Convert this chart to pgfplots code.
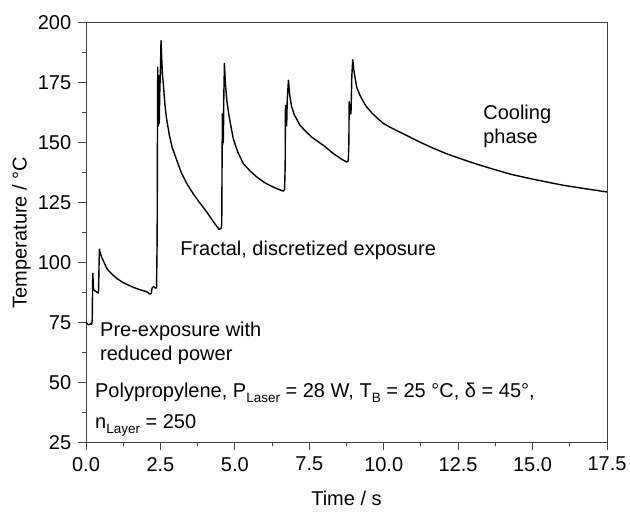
\documentclass[border=0pt]{standalone}
\usepackage{fontspec}
\setmainfont{Liberation Sans}
\usepackage{pgfplots}
\pgfplotsset{compat=1.18}
\pgfplotstableread{
t T
0.00 75.2
0.05 74.3
0.10 74.0
0.15 74.4
0.19 74.2
0.21 76
0.22 90
0.23 95.5
0.25 89
0.28 88.3
0.33 88.0
0.38 87.5
0.42 87.3
0.44 100
0.45 105.5
0.48 104
0.53 102
0.58 100.8
0.70 97.5
0.80 96
0.92 94.6
1.05 93.2
1.25 91.6
1.40 90.7
1.59 89.6
1.80 88.7
2.04 87.8
2.15 86.8
2.19 87.0
2.22 89.3
2.27 90.0
2.33 89.3
2.37 89.5
2.39 110
2.40 150
2.41 181.5
2.42 160
2.43 157
2.44 178
2.46 158
2.48 172
2.50 180
2.52 192.5
2.54 186
2.57 178
2.60 174
2.65 166
2.70 160.5
2.80 153
2.90 147.8
3.05 142.6
3.20 137.5
3.40 132.6
3.60 128.7
3.80 125.2
4.00 122
4.17 119
4.30 116.6
4.40 115
4.47 113.8
4.54 114.2
4.56 116
4.57 140
4.58 162
4.59 149
4.60 160
4.61 150
4.62 157
4.63 170
4.65 183
4.68 175
4.73 167.6
4.80 161.5
4.88 156
4.95 151.5
5.10 146
5.28 141.3
5.50 138.3
5.73 135.7
6.00 133.3
6.20 132
6.41 130.8
6.55 130.1
6.63 129.8
6.67 130.4
6.69 140
6.70 165.5
6.71 156.5
6.72 163
6.74 157
6.76 168
6.80 176
6.84 170
6.91 164.8
7.00 161.5
7.19 157.2
7.40 154.4
7.60 152.1
7.75 150.8
8.00 148.6
8.31 145.4
8.50 143.8
8.65 142.6
8.76 141.9
8.81 142.4
8.83 150
8.84 167
8.86 161.5
8.88 166
8.90 162
8.93 178
8.96 184.6
9.00 180
9.09 173.2
9.20 169.8
9.32 167
9.43 164.8
9.60 162.4
9.80 160
9.99 158
10.20 156.5
10.44 155
10.80 152.8
11.20 150.3
11.56 148.2
12.10 145.4
12.67 142.9
13.20 140.7
13.79 138.5
14.30 136.7
14.91 135
15.50 133.5
16.03 132.2
16.80 130.7
17.50 129.4
}\datatable
\newcommand{\sub}[1]{\raisebox{-5bp}{\fontsize{13.5bp}{14bp}\selectfont #1}}
\begin{document}
\fontsize{20bp}{24bp}\selectfont
\begin{tikzpicture}
\useasboundingbox (-86bp,-69.7bp) rectangle (544bp,442.3bp);
\begin{axis}[
  at={(0,0)}, anchor=south west,
  scale only axis,
  width=521bp, height=419.6bp,
  xmin=0, xmax=17.5, ymin=25, ymax=200,
  xtick={0,2.5,...,17.5},
  ytick={25,50,...,200},
  minor tick num=1,
  tick pos=left,
  tick align=outside,
  major tick length=8bp,
  minor tick length=4bp,
  axis line style={black!75, line width=0.9bp},
  every tick/.style={black!75, line width=0.9bp},
  /pgf/number format/assume math mode=true,
  xticklabel style={/pgf/number format/.cd, fixed, fixed zerofill, precision=1},
  yticklabel style={/pgf/number format/.cd, fixed, precision=0},
  xlabel={Time / s},
  ylabel={Temperature / °C},
  xlabel style={at={(axis description cs:0.5,-0.1511)}, anchor=base},
  ylabel style={at={(axis description cs:-0.1138,0.5)}, anchor=base, rotate=0},
  every node/.append style={font=\fontsize{20bp}{24bp}\selectfont},
  clip=false,
]
\addplot[black, line width=1.4bp, line join=round] table[x=t, y=T] {\datatable};
\node[anchor=base west, inner sep=0pt] at (axis cs:13.34,159.6) {Cooling};
\node[anchor=base west, inner sep=0pt] at (axis cs:13.34,149.6) {phase};
\node[anchor=base west, inner sep=0pt] at (axis cs:3.16,103.1) {Fractal, discretized exposure};
\node[anchor=base west, inner sep=0pt] at (axis cs:0.47,69.3) {Pre-exposure with};
\node[anchor=base west, inner sep=0pt] at (axis cs:0.47,59.3) {reduced power};
\node[anchor=base west, inner sep=0pt] at (axis cs:0.30,43.75) {Polypropylene, P\sub{Laser} = 28 W, T\sub{B} = 25 °C, δ = 45°,};
\node[anchor=base west, inner sep=0pt] at (axis cs:0.30,30.8) {n\sub{Layer} = 250};
\end{axis}
\end{tikzpicture}
\end{document}
